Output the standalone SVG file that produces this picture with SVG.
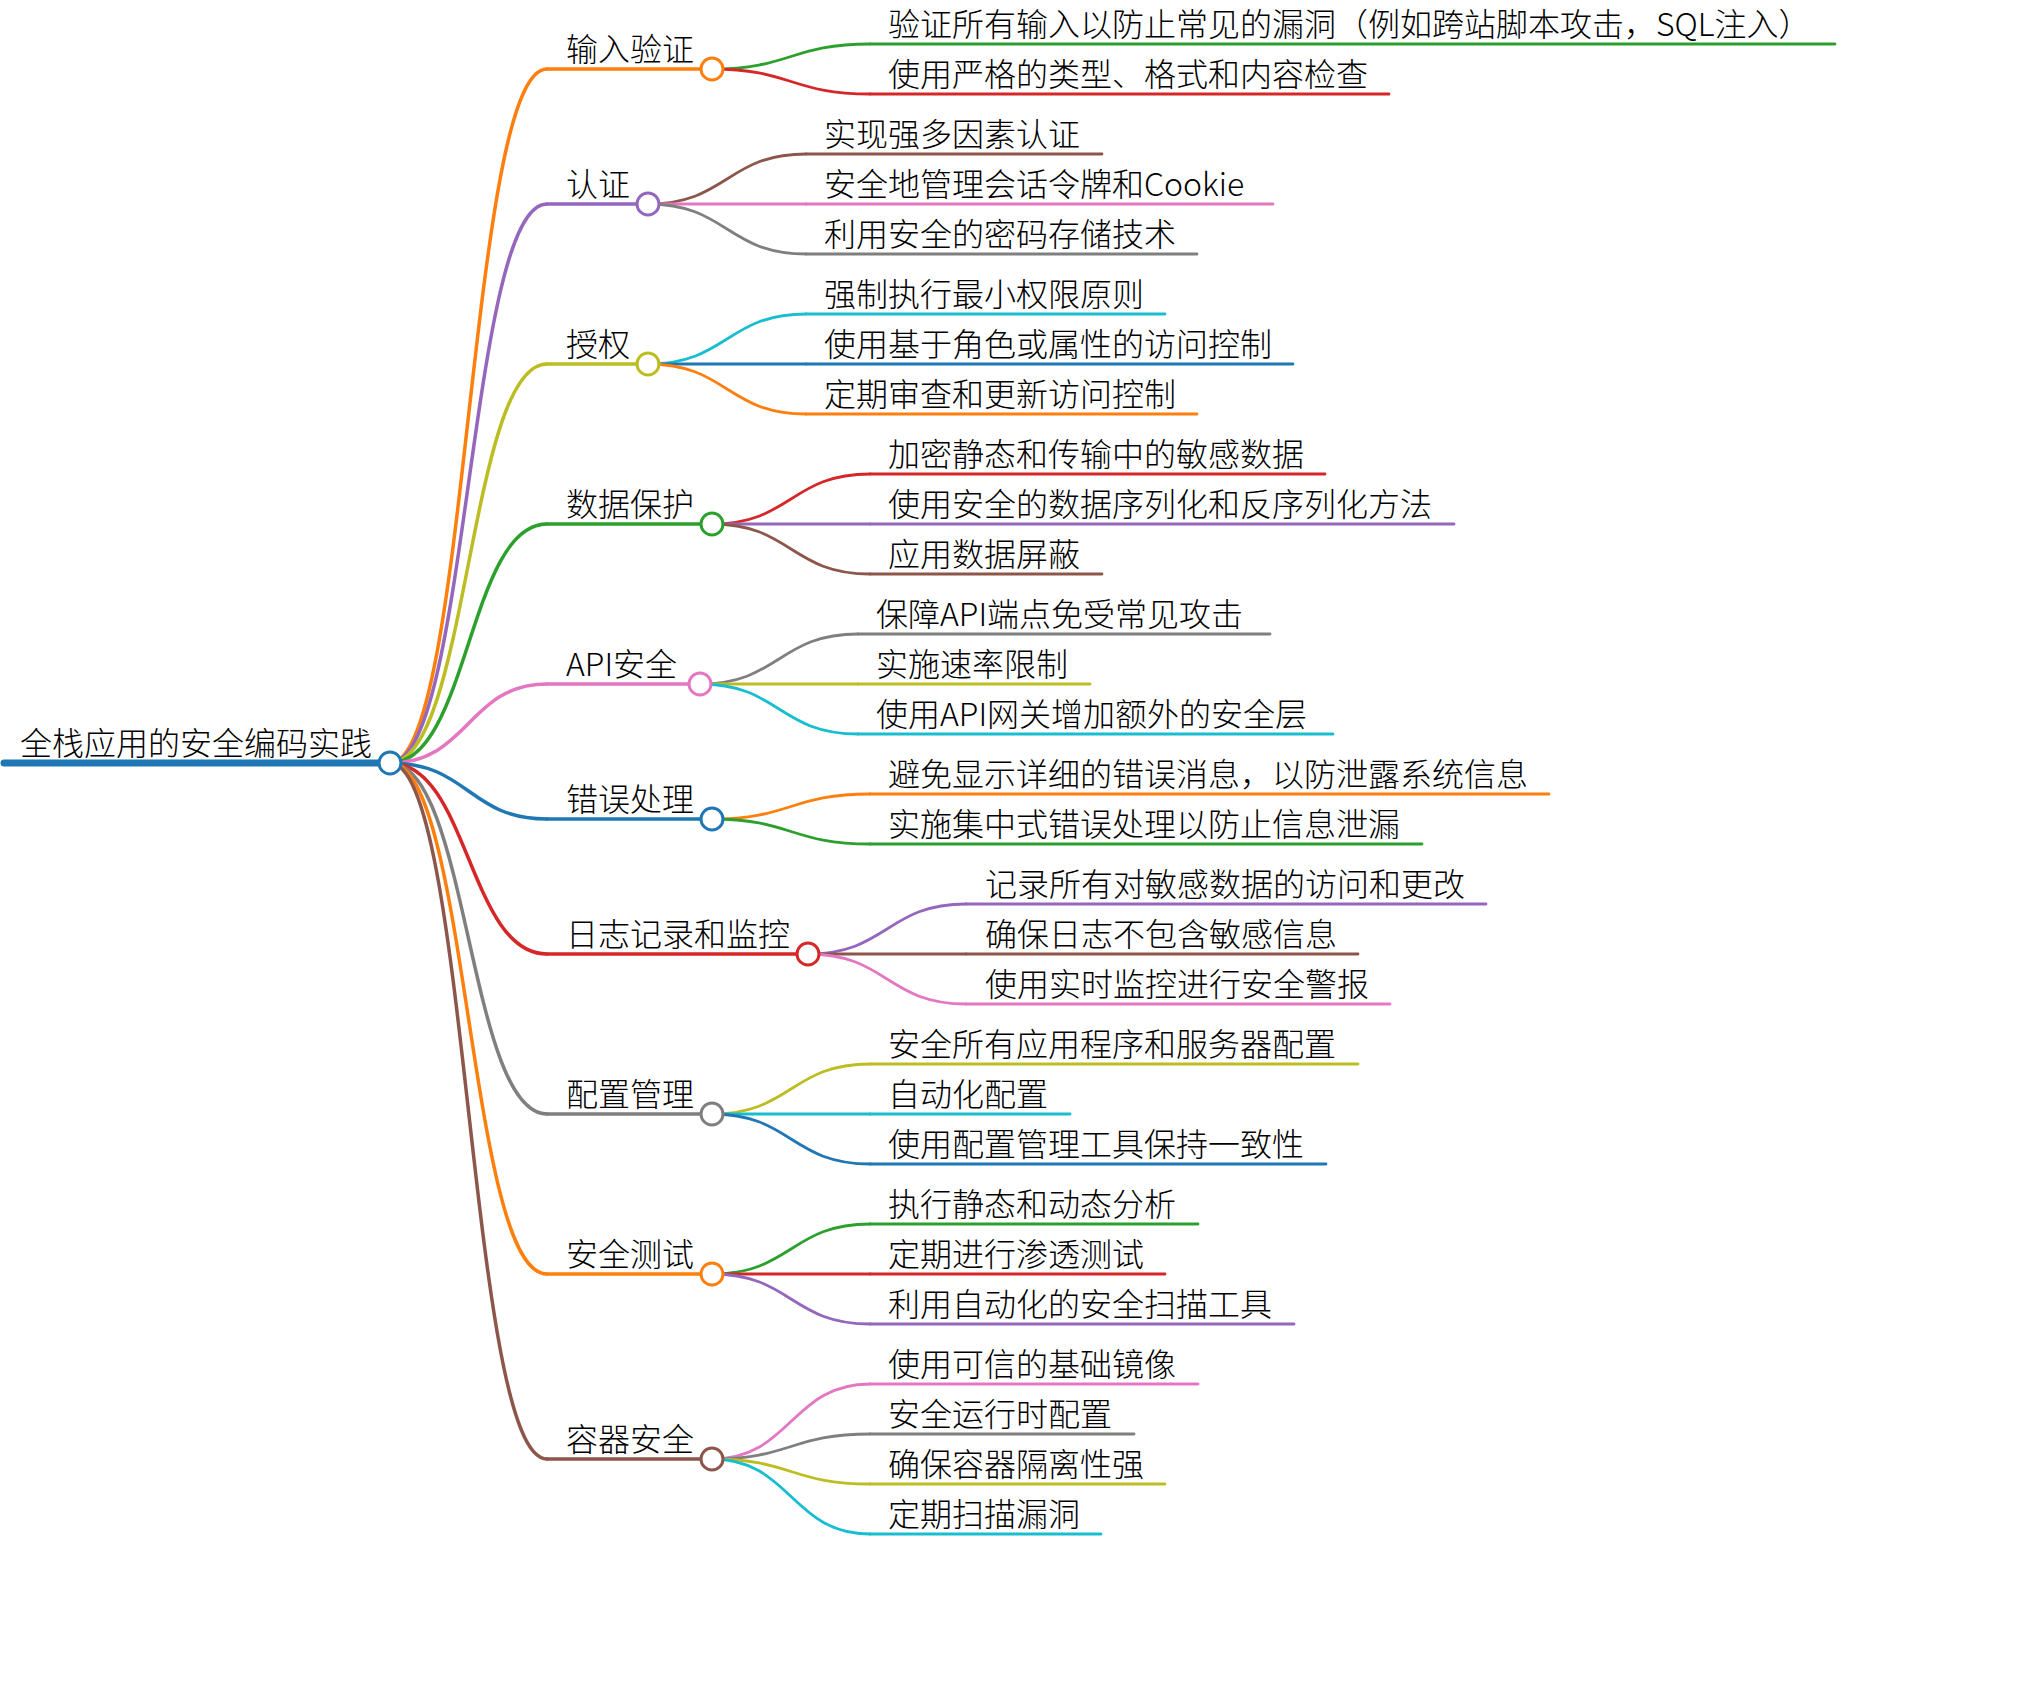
<svg xmlns="http://www.w3.org/2000/svg" width="2018" height="1682" viewBox="0 0 2018 1682">
<style>
text{font-family:"Noto Sans CJK SC","Noto Sans",sans-serif;font-size:32px;font-weight:300;fill:#000}
path,line{fill:none;stroke-linecap:round}
circle{fill:#fff;stroke-width:3}
.l1{stroke-width:3.5}
.l2{stroke-width:2.8}
.k1{stroke-width:3.5}
.k2{stroke-width:2.8}
.blue{stroke:#1f77b4}.orange{stroke:#ff7f0e}.green{stroke:#2ca02c}.red{stroke:#d62728}.purple{stroke:#9467bd}
.brown{stroke:#8c564b}.pink{stroke:#e377c2}.gray{stroke:#7f7f7f}.olive{stroke:#bcbd22}.cyan{stroke:#17becf}
</style>
<rect width="2018" height="1682" fill="#fff"/>
<g id="connectors">
<path class="k1 orange" d="M390,763 C468.5,763 468.5,69 547,69"/>
<path class="k1 purple" d="M390,763 C468.5,763 468.5,204 547,204"/>
<path class="k1 olive" d="M390,763 C468.5,763 468.5,364 547,364"/>
<path class="k1 green" d="M390,763 C468.5,763 468.5,524 547,524"/>
<path class="k1 pink" d="M390,763 C468.5,763 468.5,684 547,684"/>
<path class="k1 blue" d="M390,763 C468.5,763 468.5,819 547,819"/>
<path class="k1 red" d="M390,763 C468.5,763 468.5,954 547,954"/>
<path class="k1 gray" d="M390,763 C468.5,763 468.5,1114 547,1114"/>
<path class="k1 orange" d="M390,763 C468.5,763 468.5,1274 547,1274"/>
<path class="k1 brown" d="M390,763 C468.5,763 468.5,1459 547,1459"/>
<path class="k2 green" d="M712,69 C791,69 791,44 870,44"/>
<path class="k2 red" d="M712,69 C791,69 791,94 870,94"/>
<path class="k2 brown" d="M648,204 C727,204 727,154 806,154"/>
<path class="k2 pink" d="M648,204 L806,204"/>
<path class="k2 gray" d="M648,204 C727,204 727,254 806,254"/>
<path class="k2 cyan" d="M648,364 C727,364 727,314 806,314"/>
<path class="k2 blue" d="M648,364 L806,364"/>
<path class="k2 orange" d="M648,364 C727,364 727,414 806,414"/>
<path class="k2 red" d="M712,524 C791,524 791,474 870,474"/>
<path class="k2 purple" d="M712,524 L870,524"/>
<path class="k2 brown" d="M712,524 C791,524 791,574 870,574"/>
<path class="k2 gray" d="M700,684 C779,684 779,634 858,634"/>
<path class="k2 olive" d="M700,684 L858,684"/>
<path class="k2 cyan" d="M700,684 C779,684 779,734 858,734"/>
<path class="k2 orange" d="M712,819 C791,819 791,794 870,794"/>
<path class="k2 green" d="M712,819 C791,819 791,844 870,844"/>
<path class="k2 purple" d="M808,954 C887,954 887,904 966,904"/>
<path class="k2 brown" d="M808,954 L966,954"/>
<path class="k2 pink" d="M808,954 C887,954 887,1004 966,1004"/>
<path class="k2 olive" d="M712,1114 C791,1114 791,1064 870,1064"/>
<path class="k2 cyan" d="M712,1114 L870,1114"/>
<path class="k2 blue" d="M712,1114 C791,1114 791,1164 870,1164"/>
<path class="k2 green" d="M712,1274 C791,1274 791,1224 870,1224"/>
<path class="k2 red" d="M712,1274 L870,1274"/>
<path class="k2 purple" d="M712,1274 C791,1274 791,1324 870,1324"/>
<path class="k2 pink" d="M712,1459 C791,1459 791,1384 870,1384"/>
<path class="k2 gray" d="M712,1459 C791,1459 791,1434 870,1434"/>
<path class="k2 olive" d="M712,1459 C791,1459 791,1484 870,1484"/>
<path class="k2 cyan" d="M712,1459 C791,1459 791,1534 870,1534"/>
</g>
<g id="root">
<line class="blue" stroke-width="7" x1="4" y1="763" x2="390" y2="763"/>
<circle class="blue" cx="390" cy="763" r="11"/>
<text x="20" y="755">全栈应用的安全编码实践</text>
</g>
<g id="n1">
<line class="l1 orange" x1="547" y1="69" x2="712" y2="69"/><circle class="orange" cx="712" cy="69" r="11"/>
<text x="566" y="61">输入验证</text>
</g>
<g id="n1-1"><line class="l2 green" x1="870" y1="44" x2="1835" y2="44"/><text x="888" y="36">验证所有输入以防止常见的漏洞（例如跨站脚本攻击，SQL注入）</text></g>
<g id="n1-2"><line class="l2 red" x1="870" y1="94" x2="1389" y2="94"/><text x="888" y="86">使用严格的类型、格式和内容检查</text></g>
<g id="n2">
<line class="l1 purple" x1="547" y1="204" x2="648" y2="204"/><circle class="purple" cx="648" cy="204" r="11"/>
<text x="566" y="196">认证</text>
</g>
<g id="n2-1"><line class="l2 brown" x1="806" y1="154" x2="1102" y2="154"/><text x="824" y="146">实现强多因素认证</text></g>
<g id="n2-2"><line class="l2 pink" x1="806" y1="204" x2="1273" y2="204"/><text x="824" y="196">安全地管理会话令牌和Cookie</text></g>
<g id="n2-3"><line class="l2 gray" x1="806" y1="254" x2="1197" y2="254"/><text x="824" y="246">利用安全的密码存储技术</text></g>
<g id="n3">
<line class="l1 olive" x1="547" y1="364" x2="648" y2="364"/><circle class="olive" cx="648" cy="364" r="11"/>
<text x="566" y="356">授权</text>
</g>
<g id="n3-1"><line class="l2 cyan" x1="806" y1="314" x2="1165" y2="314"/><text x="824" y="306">强制执行最小权限原则</text></g>
<g id="n3-2"><line class="l2 blue" x1="806" y1="364" x2="1293" y2="364"/><text x="824" y="356">使用基于角色或属性的访问控制</text></g>
<g id="n3-3"><line class="l2 orange" x1="806" y1="414" x2="1197" y2="414"/><text x="824" y="406">定期审查和更新访问控制</text></g>
<g id="n4">
<line class="l1 green" x1="547" y1="524" x2="712" y2="524"/><circle class="green" cx="712" cy="524" r="11"/>
<text x="566" y="516">数据保护</text>
</g>
<g id="n4-1"><line class="l2 red" x1="870" y1="474" x2="1325" y2="474"/><text x="888" y="466">加密静态和传输中的敏感数据</text></g>
<g id="n4-2"><line class="l2 purple" x1="870" y1="524" x2="1454" y2="524"/><text x="888" y="516">使用安全的数据序列化和反序列化方法</text></g>
<g id="n4-3"><line class="l2 brown" x1="870" y1="574" x2="1102" y2="574"/><text x="888" y="566">应用数据屏蔽</text></g>
<g id="n5">
<line class="l1 pink" x1="547" y1="684" x2="700" y2="684"/><circle class="pink" cx="700" cy="684" r="11"/>
<text x="566" y="676">API安全</text>
</g>
<g id="n5-1"><line class="l2 gray" x1="858" y1="634" x2="1270" y2="634"/><text x="876" y="626">保障API端点免受常见攻击</text></g>
<g id="n5-2"><line class="l2 olive" x1="858" y1="684" x2="1090" y2="684"/><text x="876" y="676">实施速率限制</text></g>
<g id="n5-3"><line class="l2 cyan" x1="858" y1="734" x2="1333" y2="734"/><text x="876" y="726">使用API网关增加额外的安全层</text></g>
<g id="n6">
<line class="l1 blue" x1="547" y1="819" x2="712" y2="819"/><circle class="blue" cx="712" cy="819" r="11"/>
<text x="566" y="811">错误处理</text>
</g>
<g id="n6-1"><line class="l2 orange" x1="870" y1="794" x2="1549" y2="794"/><text x="888" y="786">避免显示详细的错误消息，以防泄露系统信息</text></g>
<g id="n6-2"><line class="l2 green" x1="870" y1="844" x2="1422" y2="844"/><text x="888" y="836">实施集中式错误处理以防止信息泄漏</text></g>
<g id="n7">
<line class="l1 red" x1="547" y1="954" x2="808" y2="954"/><circle class="red" cx="808" cy="954" r="11"/>
<text x="566" y="946">日志记录和监控</text>
</g>
<g id="n7-1"><line class="l2 purple" x1="966" y1="904" x2="1486" y2="904"/><text x="985" y="896">记录所有对敏感数据的访问和更改</text></g>
<g id="n7-2"><line class="l2 brown" x1="966" y1="954" x2="1358" y2="954"/><text x="985" y="946">确保日志不包含敏感信息</text></g>
<g id="n7-3"><line class="l2 pink" x1="966" y1="1004" x2="1390" y2="1004"/><text x="985" y="996">使用实时监控进行安全警报</text></g>
<g id="n8">
<line class="l1 gray" x1="547" y1="1114" x2="712" y2="1114"/><circle class="gray" cx="712" cy="1114" r="11"/>
<text x="566" y="1106">配置管理</text>
</g>
<g id="n8-1"><line class="l2 olive" x1="870" y1="1064" x2="1358" y2="1064"/><text x="888" y="1056">安全所有应用程序和服务器配置</text></g>
<g id="n8-2"><line class="l2 cyan" x1="870" y1="1114" x2="1070" y2="1114"/><text x="888" y="1106">自动化配置</text></g>
<g id="n8-3"><line class="l2 blue" x1="870" y1="1164" x2="1326" y2="1164"/><text x="888" y="1156">使用配置管理工具保持一致性</text></g>
<g id="n9">
<line class="l1 orange" x1="547" y1="1274" x2="712" y2="1274"/><circle class="orange" cx="712" cy="1274" r="11"/>
<text x="566" y="1266">安全测试</text>
</g>
<g id="n9-1"><line class="l2 green" x1="870" y1="1224" x2="1198" y2="1224"/><text x="888" y="1216">执行静态和动态分析</text></g>
<g id="n9-2"><line class="l2 red" x1="870" y1="1274" x2="1165" y2="1274"/><text x="888" y="1266">定期进行渗透测试</text></g>
<g id="n9-3"><line class="l2 purple" x1="870" y1="1324" x2="1294" y2="1324"/><text x="888" y="1316">利用自动化的安全扫描工具</text></g>
<g id="n10">
<line class="l1 brown" x1="547" y1="1459" x2="712" y2="1459"/><circle class="brown" cx="712" cy="1459" r="11"/>
<text x="566" y="1451">容器安全</text>
</g>
<g id="n10-1"><line class="l2 pink" x1="870" y1="1384" x2="1198" y2="1384"/><text x="888" y="1376">使用可信的基础镜像</text></g>
<g id="n10-2"><line class="l2 gray" x1="870" y1="1434" x2="1134" y2="1434"/><text x="888" y="1426">安全运行时配置</text></g>
<g id="n10-3"><line class="l2 olive" x1="870" y1="1484" x2="1165" y2="1484"/><text x="888" y="1476">确保容器隔离性强</text></g>
<g id="n10-4"><line class="l2 cyan" x1="870" y1="1534" x2="1101" y2="1534"/><text x="888" y="1526">定期扫描漏洞</text></g>
</svg>
